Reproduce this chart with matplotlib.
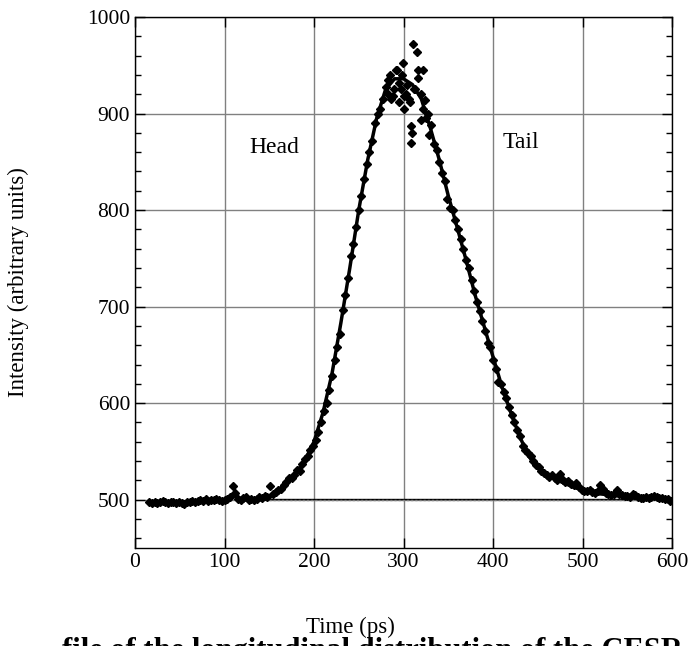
import matplotlib.pyplot as plt
import numpy as np

plt.rcParams['font.family'] = ['Liberation Serif', 'DejaVu Serif']

# measured bunch profile, sampled every 3 ps
time = np.arange(16, 600, 3)
intensity = [
    498, 497, 498, 497, 498, 499, 498, 497, 498, 498,
    497, 498, 497, 496, 498, 498, 499, 498, 499, 500,
    499, 501, 499, 500, 500, 501, 500, 499, 500, 501,
    503, 514, 507, 501, 500, 502, 503, 500, 501, 500,
    501, 503, 502, 504, 503,
    514, 506, 508, 510, 511, 515, 518, 523, 522, 526,
    531, 530, 537, 542, 545, 552, 556, 562, 570, 580,
    592, 600, 614, 628, 645, 658, 672, 697, 712, 730,
    752, 765, 782, 800, 815, 832, 848, 860, 872, 890,
    900, 905, 915, 928, 935, 915, 925, 945, 932, 940,
    918, 930, 912, 880, 925, 945, 920, 905, 895, 878,
    888, 868, 862, 850, 838, 830, 812, 802, 800, 790,
    780, 770, 760, 748, 740, 728, 716, 705, 695, 685,
    675, 662, 658, 645, 635, 622, 620, 612, 605, 596,
    588, 580, 572, 566, 556, 552, 548, 545, 540, 536,
    534, 530, 528, 526, 524, 526, 522, 520, 527, 520,
    518, 519, 516, 515, 517, 513, 510, 509, 509, 510,
    508, 507, 509, 515, 511, 507, 506, 505, 506, 510,
    506, 505, 504, 504, 503, 506, 505, 503, 502, 502,
    503, 502, 503, 504, 503, 502, 502, 501, 501, 499,
]

# extra scattered points around the peak
peak_time = [311, 315, 299, 293, 322, 316, 324, 308, 308, 288,
             295, 300, 303, 306, 297, 285, 283, 319, 327, 312]
peak_intensity = [972, 964, 952, 945, 945, 937, 914, 887, 870, 918,
                  912, 905, 920, 915, 925, 940, 920, 893, 900, 925]

# fitted curve
fit_time = [150, 160, 170, 180, 190, 200, 210, 220, 230, 240, 250, 260,
            270, 280, 290, 300, 310, 320, 330, 340, 350, 360, 370, 380,
            390, 400, 410, 420, 430, 440, 450, 460, 470, 480, 490, 500,
            520, 540, 560, 580, 600]
fit_intensity = [503, 509, 518, 528, 541, 560, 590, 630, 683, 740, 800, 852,
                 895, 925, 936, 936, 930, 915, 885, 852, 815, 782, 748, 712,
                 680, 648, 617, 590, 565, 545, 533, 526, 521, 517, 513, 510,
                 506, 504, 503, 502, 501]

baseline_time = [150, 600]
baseline = [501, 501]

fig = plt.figure(figsize=(6.88, 6.46), dpi=100)
ax = fig.add_axes([135 / 688, 1 - 548 / 646, 537 / 688, 531 / 646])

ax.plot(baseline_time, baseline, color='black', lw=1.0, zorder=2)
ax.plot(baseline_time, [b - 1.2 for b in baseline], color='gray', lw=1.0,
        ls=(0, (1.5, 1.5)), zorder=2)
ax.plot(fit_time, fit_intensity, color='black', lw=2.5, zorder=3)
ax.plot(time, intensity, 'D', color='black', ms=4.5, zorder=4)
ax.plot(peak_time, peak_intensity, 'D', color='black', ms=4.5, zorder=4)

ax.set_xlim(0, 600)
ax.set_ylim(450, 1000)
ax.set_xticks([0, 100, 200, 300, 400, 500, 600])
ax.set_yticks([500, 600, 700, 800, 900, 1000])
ax.set_yticks(np.arange(460, 1000, 20), minor=True)
ax.grid(True, color='gray', lw=1.0)
ax.set_axisbelow(True)
ax.tick_params(axis='both', which='major', direction='in', length=7,
               width=1, top=True, right=True, labelsize=15.5)
ax.tick_params(axis='y', which='minor', direction='in', length=4,
               width=1, right=True)
for s in ax.spines.values():
    s.set_linewidth(1.0)

ax.text(156, 865, 'Head', fontsize=17, ha='center', va='center')
ax.text(431, 870, 'Tail', fontsize=17, ha='center', va='center')

fig.text(18 / 688, 1 - 282 / 646, 'Intensity (arbitrary units)', fontsize=16.5,
         rotation=90, ha='center', va='center')
fig.text(350 / 688, 1 - 627 / 646, 'Time (ps)', fontsize=16.5,
         ha='center', va='center')
# caption line, cut off by the bottom edge as in the source page
fig.text(62 / 688, 1 - 637 / 646,
         'file of the longitudinal distribution of the CESR',
         fontsize=22, fontweight='bold', ha='left', va='top')

fig.savefig('out.png', dpi=100)
